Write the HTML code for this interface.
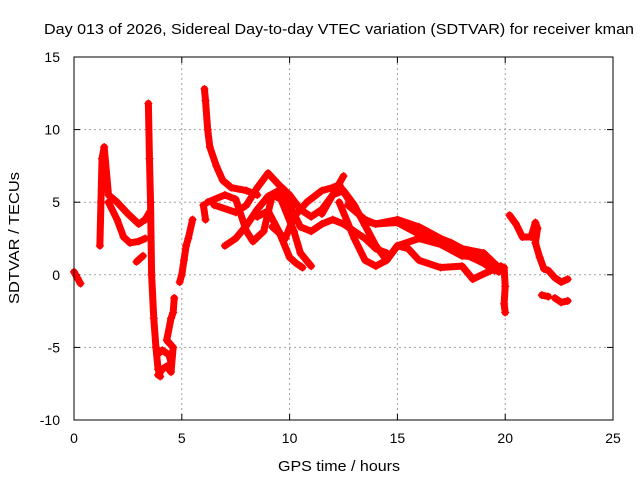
<!DOCTYPE html>
<html><head><meta charset="utf-8"><style>
body{margin:0;background:#fff}
svg text{font-family:"Liberation Sans",sans-serif;font-size:14px;fill:#000}
</style></head><body>
<svg id="chart" width="640" height="480">
<text x="339" y="34" text-anchor="middle" textLength="590" lengthAdjust="spacingAndGlyphs" style="font-size:15px">Day 013 of 2026, Sidereal Day-to-day VTEC variation (SDTVAR) for receiver kman</text>
<text x="339" y="471" text-anchor="middle" textLength="122" lengthAdjust="spacingAndGlyphs" style="font-size:15px">GPS time / hours</text>
<text x="19" y="238" text-anchor="middle" textLength="132" lengthAdjust="spacingAndGlyphs" style="font-size:15px" transform="rotate(-90 19 238)">SDTVAR / TECUs</text>
<g id="grid"></g><g id="ticks"></g><g id="marks"></g>
<rect x="74" y="57" width="539" height="363" fill="none" stroke="#000"/>
</svg>
<script>
const xTicks=[0,5,10,15,20,25];
const yTicks=[15,10,5,0,-5,-10];
const tracks=[
[[0,0.2],[0.15,-0.2],[0.3,-0.6]],
[[1.2,2],[1.25,5],[1.3,8],[1.4,8.8],[1.6,5.5],[2,5],[2.5,4.2],[3,3.5],[3.3,3.8],[3.5,4.3]],
[[1.6,5],[2,3.8],[2.3,2.6],[2.6,2.2],[3,2.3],[3.3,2.5]],
[[2.9,0.9],[3.2,1.3]],
[[3.45,11.8],[3.5,8],[3.55,5],[3.6,0],[3.7,-3],[3.8,-5],[3.9,-6.5],[4.0,-7]],
[[3.9,-6.9],[4.1,-6.5],[4.3,-6.3],[4.5,-6.7],[4.6,-5],[4.3,-4.5],[4.5,-3.0],[4.6,-2.6],[4.65,-1.6]],
[[3.85,-5.5],[4.1,-5.2],[4.4,-5.5],[4.5,-6.0]],
[[4.9,-0.5],[5.0,0],[5.1,1],[5.2,2],[5.3,2.5],[5.5,3.8]],
[[6.05,12.8],[6.1,12],[6.2,10],[6.3,8.8],[6.6,7.5],[6.9,6.5],[7.3,6],[8,5.8],[8.5,5.5]],
[[6.0,4.8],[6.1,3.8]],
[[6.2,5],[7,5.5],[7.5,5.2],[8,3.0],[8.3,2.3],[8.8,3.0],[9.2,5.5],[9.6,5.2],[10.2,3],[10.5,1.5],[11,0.6]],
[[6.5,4.8],[7.5,4.3],[8,4.8],[8.5,6],[9,7],[9.5,6.2],[10,5.5],[10.5,4.5],[11,4],[11.5,4.5],[12,5.5],[12.5,6.8]],
[[7,2.0],[7.5,2.5],[8,3.4],[8.5,4.5],[9,5.4],[9.5,5.8],[10,4.8],[10.5,3.3],[11,3],[11.5,3.5],[12,3.8],[12.5,3.5],[13,3],[13.5,2.5],[14,1.8],[14.5,1.5]],
[[8.5,4.0],[9,4.4],[9.5,3.0],[10,1.2],[10.3,0.8],[10.6,0.5]],
[[9.2,3.3],[9.8,2.5],[10.2,4],[10.8,5],[11.5,5.8],[12,6],[12.3,6.2],[12.6,5.5],[13,4.5],[13.5,3.7],[14,3.5],[15,3.6],[16,2.8],[17,2.2],[18,1.5],[19,0.8],[19.5,0.3]],
[[11.5,4.2],[12,5.5],[12.5,5.8],[13,4.8],[13.5,3.4],[14,2],[14.5,1],[15,2],[16,2.5],[17,2.1],[18,1.3],[19,1.2],[19.7,0.2]],
[[12.3,5],[13,2.5],[13.5,1],[14,0.6],[14.5,1],[15,2.0],[15.5,1.8],[16,1.0],[17,0.5],[18,0.6],[18.5,-0.3],[19.2,0.2],[19.8,0.6]],
[[12.7,4.8],[13.5,3.8],[14,3.5],[15,3.8],[16,3.3],[17,2.5],[17.5,2.2],[18,1.8],[19,1.5],[19.7,0.5]],
[[19.95,0.5],[20,-0.8],[19.95,-2],[20,-2.6]],
[[20.2,4.1],[20.5,3.5],[20.8,2.6],[21.2,2.6],[21.4,3.6],[21.5,3.2],[21.4,2.2],[21.6,1.2],[21.8,0.4],[22,0.3],[22.3,-0.2],[22.6,-0.5],[22.9,-0.3]],
[[21.7,-1.4],[22,-1.5]],
[[22.3,-1.6],[22.6,-1.9],[22.9,-1.8]]
];
const NS='http://www.w3.org/2000/svg';
const X0=74,X1=613,Y0=420,Y1=57;
function sx(v){return X0+(v-0)/(25-0)*(X1-X0);}
function sy(v){return Y0-(v+10)/(15+10)*(Y0-Y1);}
function mk(t,a,p){const e=document.createElementNS(NS,t);for(const k in a)e.setAttribute(k,a[k]);p.appendChild(e);return e;}
const grid=document.getElementById('grid'),ticks=document.getElementById('ticks'),marks=document.getElementById('marks');
xTicks.forEach(v=>{
  if(v>0&&v<25){const l=mk('line',{x1:sx(v),x2:sx(v),y1:Y0,y2:Y1,stroke:'#a0a0a0','stroke-dasharray':'2,3'},grid);
  
  }
  mk('line',{x1:sx(v),x2:sx(v),y1:Y0,y2:Y0-6,stroke:'#000'},ticks);
  mk('line',{x1:sx(v),x2:sx(v),y1:Y1,y2:Y1+6,stroke:'#000'},ticks);
  const t=mk('text',{x:sx(v),y:Y0+23,'text-anchor':'middle'},ticks);t.textContent=v;
  
  
});
yTicks.forEach(v=>{
  if(v>-10&&v<15){const l=mk('line',{x1:X0,x2:X1,y1:sy(v),y2:sy(v),stroke:'#a0a0a0','stroke-dasharray':'2,3'},grid);
  
  }
  mk('line',{x1:X0,x2:X0+6,y1:sy(v),y2:sy(v),stroke:'#000'},ticks);
  mk('line',{x1:X1,x2:X1-6,y1:sy(v),y2:sy(v),stroke:'#000'},ticks);
  const t=mk('text',{x:X0-14,y:sy(v)+5,'text-anchor':'end'},ticks);t.textContent=v;
  
  
});
tracks.forEach(tr=>{
  const pl=mk('polyline',{points:tr.map(p=>sx(p[0])+','+sy(p[1])).join(' '),fill:'none',stroke:'#f00','stroke-width':7,'stroke-linejoin':'round','stroke-linecap':'round'},marks);
  
  
  tr.forEach(p=>{
    const x=sx(p[0]),y=sy(p[1]);
    const m=mk('path',{d:`M${x-4},${y}H${x+4}M${x},${y-4}V${y+4}`,stroke:'#f00','stroke-width':1.2},marks);
    
    
  });
});
</script>
</body></html>
